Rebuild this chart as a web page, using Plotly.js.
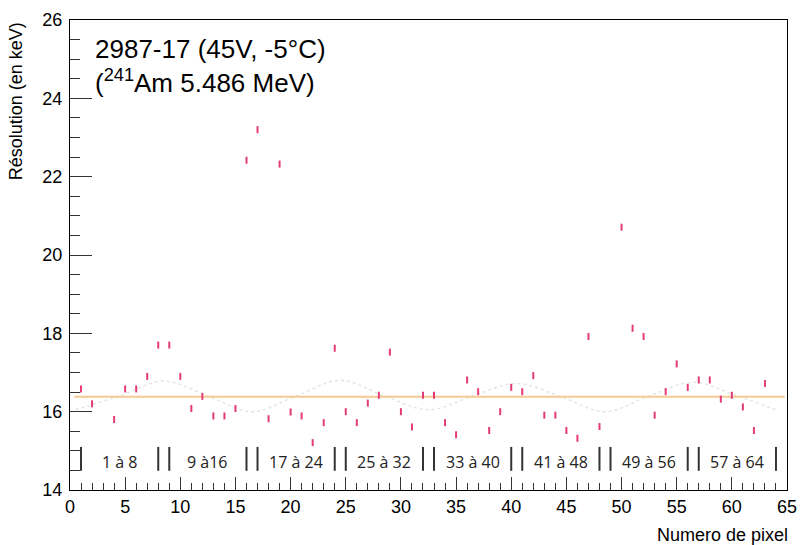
<!DOCTYPE html>
<html>
<head>
<meta charset="utf-8">
<script src="https://cdn.plot.ly/plotly-3.0.1.min.js"></script>
<style>html,body{margin:0;padding:0;background:#fff;}#chart{width:800px;height:545px;}</style>
</head>
<body>
<div id="chart"></div>
<script>
// Pixel numbers and resolution values (keV)
const pixels = [1,2,4,5,6,7,8,9,10,11,12,13,14,15,16,17,18,19,20,21,22,23,24,25,26,27,28,29,30,31,32,33,34,35,36,37,38,39,40,41,42,43,44,45,46,47,48,50,51,52,53,54,55,56,57,58,59,60,61,62,63];
const resolution = [16.58,16.2,15.8,16.58,16.58,16.9,17.7,17.7,16.9,16.08,16.39,15.89,15.89,16.08,22.42,23.2,15.82,22.32,15.99,15.89,15.21,15.72,17.62,16.0,15.72,16.22,16.42,17.52,16.0,15.61,16.42,16.42,15.72,15.41,16.81,16.51,15.52,16.0,16.62,16.51,16.92,15.91,15.91,15.52,15.32,17.92,15.62,20.71,18.13,17.92,15.91,16.51,17.22,16.62,16.81,16.81,16.32,16.42,16.12,15.52,16.72];

// Faint dotted curve
const curveX = [0.5,4.5,8.5,12.5,16.5,20.5,24.5,28.5,32.5,36.5,40.5,44.5,48.5,52.5,56.5,60.5,64];
const curveY = [16.05,16.4,16.78,16.4,16.0,16.4,16.8,16.4,16.05,16.4,16.72,16.38,16.0,16.4,16.75,16.4,16.05];

// Mean line
const meanValue = 16.38;
const meanX = [0.4, 64.8];

// Group labels and separator positions
const groupLabels = ["1 à 8","9 à16","17 à 24","25 à 32","33 à 40","41 à 48","49 à 56","57 à 64"];
const groupCenters = [4.5,12.5,20.5,28.5,36.5,44.5,52.5,60.5];
const separators = [1,8,9,16,17,24,25,32,33,40,41,48,49,56,57,64];
const sepRange = [14.49, 15.1];
const labelY = 14.72;

const traces = [
  {x: curveX, y: curveY, mode: 'lines', line: {shape: 'spline', color: 'rgba(185,205,185,0.45)', width: 1.5, dash: 'dot'}, hoverinfo: 'skip'},
  {x: meanX, y: [meanValue, meanValue], mode: 'lines', line: {color: '#f6c896', width: 2}, hoverinfo: 'skip'},
  {x: pixels, y: resolution, mode: 'markers', marker: {symbol: 'line-ns', size: 5, color: '#e33a78', line: {color: '#e33a78', width: 2}}}
];

const shapes = separators.map(s => ({type: 'line', xref: 'x', yref: 'y', x0: s, x1: s, y0: sepRange[0], y1: sepRange[1], line: {color: '#333', width: 2}}));

const annotations = groupLabels.map((t, i) => ({x: groupCenters[i], y: labelY, xref: 'x', yref: 'y', text: t, showarrow: false, font: {family: 'Open Sans', size: 16, color: '#222'}}));

annotations.push({xref: 'paper', yref: 'paper', x: 0.032, y: 0.975, xanchor: 'left', yanchor: 'top', align: 'left', showarrow: false,
  text: '2987-17 (45V, -5°C)<br>(<sup>241</sup>Am 5.486 MeV)', font: {family: 'Liberation Sans, Arial', size: 26, color: '#000'}});
annotations.push({xref: 'paper', yref: 'paper', x: 1.004, y: -0.07, xanchor: 'right', yanchor: 'top', showarrow: false,
  text: 'Numero de pixel', font: {family: 'Liberation Sans, Arial', size: 18, color: '#000'}});
annotations.push({xref: 'paper', yref: 'paper', x: -0.075, y: 1.0, xanchor: 'center', yanchor: 'top', showarrow: false, textangle: -90,
  text: 'Résolution (en keV)', font: {family: 'Liberation Sans, Arial', size: 18, color: '#000'}});

const layout = {
  width: 800, height: 545,
  margin: {l: 70, r: 13, t: 20, b: 55},
  paper_bgcolor: '#fff', plot_bgcolor: '#fff',
  showlegend: false,
  font: {family: 'Liberation Sans, Arial', size: 17, color: '#000'},
  xaxis: {range: [0, 65], tick0: 0, dtick: 5, showgrid: false, zeroline: false,
    showline: true, mirror: true, linecolor: '#000', linewidth: 1,
    ticks: 'inside', ticklen: 13, tickcolor: '#333', tickwidth: 1,
    minor: {dtick: 1, ticks: 'inside', ticklen: 7, tickcolor: '#333', tickwidth: 1, showgrid: false},
    tickfont: {size: 18}},
  yaxis: {range: [14, 26], tick0: 14, dtick: 2, showgrid: false, zeroline: false,
    showline: true, mirror: true, linecolor: '#000', linewidth: 1,
    ticks: 'inside', ticklen: 22, tickcolor: '#333', tickwidth: 1,
    minor: {dtick: 0.5, ticks: 'inside', ticklen: 10, tickcolor: '#333', tickwidth: 1, showgrid: false},
    tickfont: {size: 18}, ticklabelstandoff: 3},
  shapes: shapes,
  annotations: annotations
};

Plotly.newPlot('chart', traces, layout, {staticPlot: true, displayModeBar: false});
</script>
</body>
</html>
